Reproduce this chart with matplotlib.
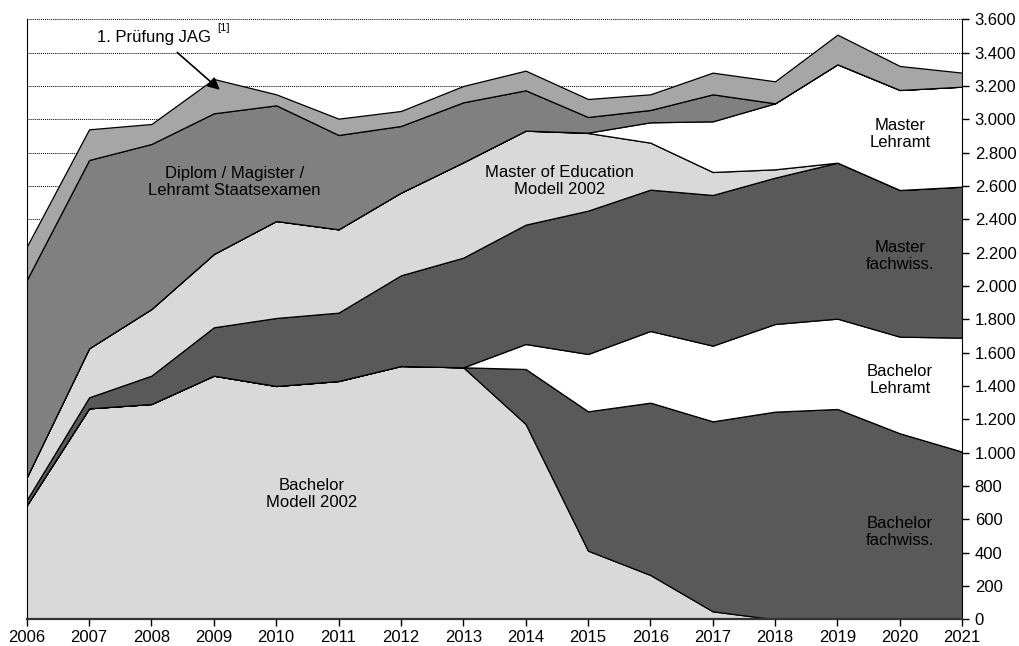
import matplotlib
matplotlib.use("Agg")
import matplotlib.pyplot as plt
from matplotlib.ticker import FuncFormatter, MultipleLocator

plt.rcParams['font.family'] = ['Liberation Sans', 'DejaVu Sans']

years = list(range(2006, 2022))

# stacked from bottom to top
bachelor_2002 = [684, 1266, 1292, 1462, 1400, 1430, 1520, 1512, 1172, 412, 266, 48, 0, 0, 0, 0]
bachelor_fach = [0, 0, 0, 0, 0, 0, 0, 0, 330, 836, 1034, 1140, 1246, 1262, 1116, 1006]
bachelor_lehr = [0, 0, 0, 0, 0, 0, 0, 0, 150, 344, 430, 454, 526, 542, 580, 684]
master_fach = [32, 66, 170, 290, 408, 410, 544, 658, 716, 860, 848, 904, 878, 936, 880, 906]
master_edu = [136, 294, 400, 440, 582, 500, 496, 572, 564, 466, 282, 138, 50, 0, 0, 0]
master_lehr = [0, 0, 0, 0, 0, 0, 0, 0, 0, 2, 122, 304, 396, 590, 600, 600]
diplom = [1184, 1130, 990, 844, 694, 566, 400, 360, 242, 94, 74, 162, 0, 0, 0, 0]
jag = [200, 184, 120, 206, 66, 98, 90, 98, 118, 108, 94, 130, 132, 178, 144, 84]

colors = ['#d9d9d9', '#595959', '#ffffff', '#595959', '#d9d9d9', '#ffffff', '#808080', '#a6a6a6']

fig = plt.figure(figsize=(10.2, 6.46), dpi=100)
ax = fig.add_axes([0.0262, 0.0413, 0.9171, 0.9288])

ax.set_axisbelow(True)
ax.yaxis.grid(True, linestyle=(0, (1, 1)), color='black', linewidth=0.7)

ax.stackplot(years, bachelor_2002, bachelor_fach, bachelor_lehr, master_fach,
             master_edu, master_lehr, diplom, jag,
             colors=colors, edgecolor='black', linewidth=0.9)

ax.set_xlim(2006, 2021)
ax.set_ylim(0, 3600)
ax.set_xticks(years)
ax.yaxis.set_major_locator(MultipleLocator(200))
ax.yaxis.set_major_formatter(FuncFormatter(lambda v, p: f"{int(v):,}".replace(",", ".")))
ax.yaxis.tick_right()
ax.tick_params(axis='both', labelsize=12, direction='out', length=5, width=1)
ax.tick_params(axis='y', pad=4)
ax.tick_params(axis='x', pad=3)

ax.spines['top'].set_visible(False)
ax.spines['bottom'].set_linewidth(1.6)
ax.spines['bottom'].set_color('#333333')

fs = 12
ax.text(2009.33, 2625, "Diplom / Magister /\nLehramt Staatsexamen", ha='center', va='center', fontsize=fs, linespacing=1.15)
ax.text(2014.54, 2630, "Master of Education\nModell 2002", ha='center', va='center', fontsize=fs, linespacing=1.15)
ax.text(2020.0, 2912, "Master\nLehramt", ha='center', va='center', fontsize=fs, linespacing=1.15)
ax.text(2020.0, 2180, "Master\nfachwiss.", ha='center', va='center', fontsize=fs, linespacing=1.15)
ax.text(2020.0, 1436, "Bachelor\nLehramt", ha='center', va='center', fontsize=fs, linespacing=1.15)
ax.text(2020.0, 524, "Bachelor\nfachwiss.", ha='center', va='center', fontsize=fs, linespacing=1.15)
ax.text(2010.57, 752, "Bachelor\nModell 2002", ha='center', va='center', fontsize=fs, linespacing=1.15)

ax.text(2008.95, 3492, "1. Prüfung JAG", ha='right', va='center', fontsize=fs)
ax.text(2009.05, 3545, "[1]", ha='left', va='center', fontsize=8)
ax.annotate("", xy=(2009.13, 3166), xytext=(2008.38, 3412),
            arrowprops=dict(arrowstyle='-|>', color='black', lw=1.2, mutation_scale=18))

fig.savefig("out.png", dpi=100)
